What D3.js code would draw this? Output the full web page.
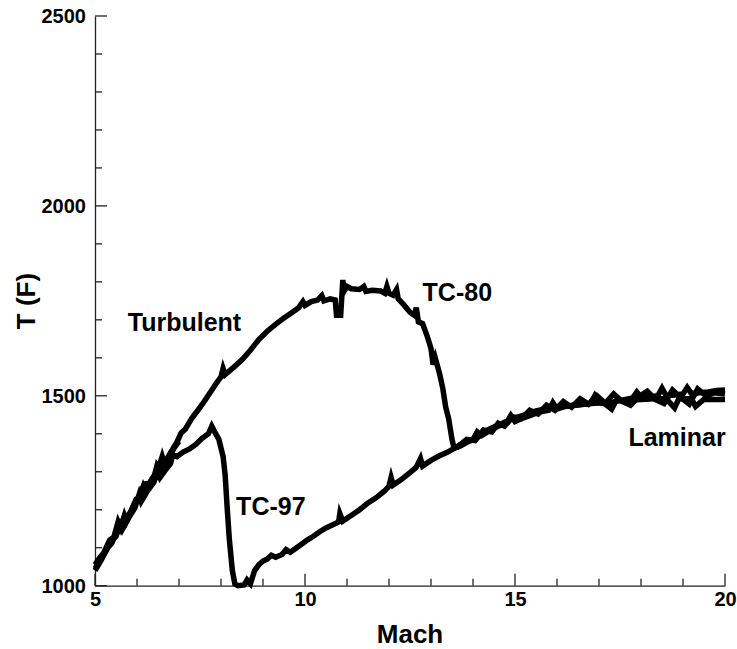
<!DOCTYPE html>
<html>
<head>
<meta charset="utf-8">
<script src="https://cdn.jsdelivr.net/npm/d3@7"></script>
<style>
  html, body { margin: 0; padding: 0; background: #fff; }
  svg { display: block; }
  text { font-family: "Liberation Sans", Arial, Helvetica, sans-serif; font-weight: bold; fill: #000; }
</style>
</head>
<body>
<svg id="chart" width="737" height="649"></svg>
<script>
// ---- data ----
const xTicks = [5, 10, 15, 20];
const yTicks = [1000, 1500, 2000, 2500];

// TC-80 run: turbulent heating, transition drop near Mach 13.5, then laminar
const tc80Mach = [5.00,5.15,5.30,5.40,5.50,5.60,5.70,5.75,5.90,6.05,6.15,6.20,6.35,6.50,6.60,6.65,6.80,6.95,7.05,7.15,7.30,7.45,7.60,7.75,7.90,8.00,8.05,8.10,8.30,8.50,8.70,8.90,9.10,9.30,9.50,9.70,9.85,9.95,10.00,10.15,10.30,10.40,10.45,10.60,10.72,10.75,10.85,10.90,10.93,11.00,11.10,11.30,11.40,11.45,11.60,11.80,11.90,11.95,12.00,12.10,12.18,12.22,12.35,12.50,12.60,12.65,12.70,12.80,12.90,13.00,13.05,13.10,13.20,13.28,13.35,13.42,13.50,13.55,13.70,13.90,14.10,14.30,14.50,14.70,14.90,15.10,15.30,15.50,15.70,15.90,16.10,16.30,16.50,16.80,17.10,17.30,17.40,17.70,18.00,18.30,18.60,18.80,18.90,19.20,19.30,19.50,19.80,20.00];
const tc80Temp = [1040,1068,1100,1112,1138,1150,1185,1170,1205,1232,1262,1250,1280,1305,1340,1322,1350,1378,1402,1412,1440,1462,1485,1510,1535,1550,1572,1556,1575,1595,1620,1648,1670,1688,1705,1720,1732,1748,1738,1748,1752,1764,1750,1755,1752,1712,1712,1805,1775,1788,1782,1780,1788,1775,1778,1776,1770,1788,1770,1765,1780,1755,1740,1720,1712,1732,1695,1690,1660,1625,1582,1600,1560,1520,1470,1440,1385,1362,1368,1380,1390,1408,1418,1428,1438,1445,1452,1460,1465,1470,1472,1474,1476,1480,1482,1465,1486,1488,1490,1492,1492,1468,1492,1492,1472,1491,1490,1490];

// TC-97 run: early transition drop near Mach 8.3, then laminar
const tc97Mach = [5.00,5.10,5.25,5.40,5.50,5.60,5.65,5.80,5.95,6.05,6.10,6.25,6.40,6.50,6.55,6.70,6.80,6.85,6.95,7.10,7.25,7.40,7.55,7.70,7.78,7.85,7.95,8.05,8.10,8.15,8.20,8.27,8.33,8.40,8.55,8.62,8.70,8.80,8.90,9.00,9.10,9.20,9.30,9.45,9.55,9.65,9.80,9.95,10.05,10.20,10.35,10.50,10.65,10.80,10.83,10.90,11.10,11.30,11.50,11.70,11.90,12.00,12.05,12.10,12.30,12.50,12.65,12.75,12.80,13.00,13.20,13.40,13.60,13.80,14.00,14.10,14.20,14.40,14.60,14.80,14.90,15.00,15.20,15.40,15.60,15.80,15.90,16.00,16.20,16.40,16.60,16.80,16.90,17.00,17.20,17.40,17.60,17.80,17.90,18.00,18.20,18.40,18.50,18.60,18.80,19.00,19.10,19.20,19.40,19.60,19.80,20.00];
const tc97Temp = [1045,1062,1090,1118,1130,1160,1148,1178,1205,1240,1222,1250,1272,1300,1285,1308,1322,1345,1340,1352,1360,1372,1388,1400,1420,1405,1385,1340,1290,1200,1120,1040,1005,1000,1002,1015,1005,1040,1055,1065,1070,1080,1075,1082,1095,1088,1100,1112,1120,1130,1142,1152,1160,1168,1190,1170,1185,1200,1218,1232,1250,1262,1285,1265,1280,1298,1312,1335,1315,1330,1342,1352,1365,1378,1385,1405,1395,1408,1420,1428,1448,1432,1442,1450,1458,1462,1482,1465,1472,1475,1478,1480,1500,1482,1478,1486,1490,1494,1510,1496,1497,1500,1520,1500,1502,1505,1522,1506,1508,1510,1514,1515];

// extra overlapping traces (repeat runs) that thicken the bands
const runBMach = [5.00,5.12,5.20,5.35,5.45,5.55,5.62,5.70,5.85,5.98,6.08,6.18,6.30,6.42,6.48,6.58,6.72,6.88,7.00];
const runBTemp = [1055,1075,1085,1120,1128,1168,1150,1172,1195,1228,1232,1268,1270,1292,1318,1305,1330,1362,1380];
const runCMach = [13.60,13.85,14.05,14.25,14.45,14.60,14.75,14.95,15.15,15.35,15.55,15.75,15.95,16.15,16.35,16.55,16.75,16.95,17.15,17.35,17.55,17.75,17.95,18.15,18.35,18.55,18.75,18.95,19.15,19.35,19.55,19.75,20.00];
const runCTemp = [1362,1385,1382,1410,1405,1428,1420,1445,1440,1462,1452,1475,1462,1485,1470,1492,1478,1500,1480,1505,1485,1475,1498,1512,1490,1480,1515,1495,1478,1518,1500,1508,1505];

const labelText = ["Turbulent", "TC-80", "TC-97", "Laminar"];
const labelMach = [5.78, 12.8, 8.36, 17.7];
const labelTemp = [1670, 1750, 1185, 1367];

// ---- drawing ----
const svg = d3.select("#chart");
const x = d3.scaleLinear().domain([5, 20]).range([95, 725]);
const y = d3.scaleLinear().domain([1000, 2500]).range([585.7, 16]);

const axisColor = "#222";
const fontStack = '"Liberation Sans", Arial, Helvetica, sans-serif';

// bottom axis
const xAxis = d3.axisBottom(x).tickValues(xTicks).tickSize(0).tickPadding(5).tickFormat(d3.format("d"));
const gx = svg.append("g").attr("transform", `translate(0,${y(1000)})`).call(xAxis)
  .attr("font-family", fontStack).attr("font-size", 20);
gx.select(".domain").attr("stroke", axisColor).attr("stroke-width", 1.3);
gx.selectAll(".tick text").style("font-family", fontStack).style("font-size", "20px").style("font-weight", "bold").attr("fill", "#000").attr("dy", "0.78em");
const xMinor = d3.range(5, 20.001, 1);
svg.append("g").selectAll("line").data(xMinor).join("line")
  .attr("x1", d => x(d)).attr("x2", d => x(d))
  .attr("y1", y(1000)).attr("y2", d => y(1000) - (d % 5 === 0 ? 12 : 7))
  .attr("stroke", axisColor).attr("stroke-width", 1.3);

// left axis
const yAxis = d3.axisLeft(y).tickValues(yTicks).tickSize(0).tickPadding(9).tickFormat(d3.format("d"));
const gy = svg.append("g").attr("transform", `translate(${x(5)},0)`).call(yAxis)
  .attr("font-family", fontStack).attr("font-size", 20);
gy.select(".domain").attr("stroke", axisColor).attr("stroke-width", 1.3);
gy.selectAll(".tick text").style("font-family", fontStack).style("font-size", "20px").style("font-weight", "bold").attr("fill", "#000");
const yMinor = d3.range(1000, 2500.001, 100);
svg.append("g").selectAll("line").data(yMinor).join("line")
  .attr("x1", x(5)).attr("x2", d => x(5) + (d % 500 === 0 ? 12 : 7))
  .attr("y1", d => y(d)).attr("y2", d => y(d))
  .attr("stroke", axisColor).attr("stroke-width", 1.3);

// axis titles
svg.append("text").attr("x", 410).attr("y", 643).attr("text-anchor", "middle")
  .style("font-size", "26px").text("Mach");
svg.append("text").attr("transform", "translate(35,301) rotate(-90)").attr("text-anchor", "middle")
  .style("font-size", "26px").text("T (F)");

// curves
const line = d3.line().x(d => x(d[0])).y(d => y(d[1]));
const series = [
  d3.zip(tc97Mach, tc97Temp),
  d3.zip(tc80Mach, tc80Temp),
  d3.zip(runBMach, runBTemp),
  d3.zip(runCMach, runCTemp)
];
svg.append("g").selectAll("path").data(series).join("path")
  .attr("d", line)
  .attr("fill", "none")
  .attr("stroke", "#000")
  .attr("stroke-width", 5.5)
  .attr("stroke-linejoin", "miter")
  .attr("stroke-miterlimit", 4);

// labels
svg.append("g").selectAll("text").data(labelText).join("text")
  .attr("x", (d, i) => x(labelMach[i]))
  .attr("y", (d, i) => y(labelTemp[i]))
  .style("font-size", "25px")
  .text(d => d);
</script>
</body>
</html>
